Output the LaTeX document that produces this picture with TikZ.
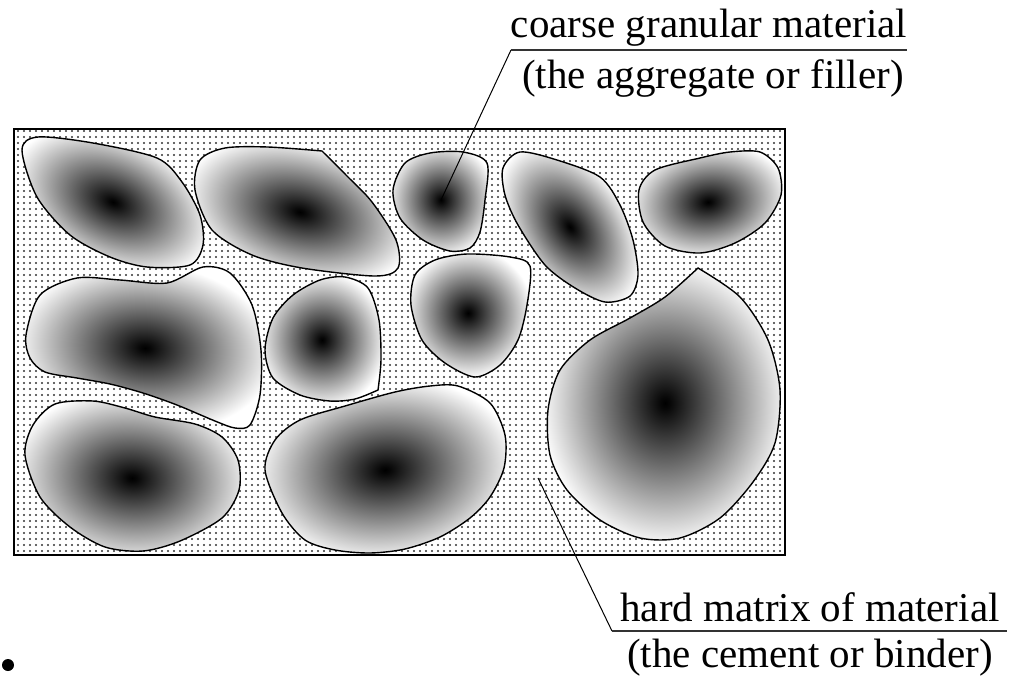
\documentclass[tikz,border=0pt]{standalone}
\usepackage{fontspec}
\setmainfont{Liberation Serif}
\usetikzlibrary{patterns}
\pgfdeclareradialshading{grainshade}{\pgfpoint{0bp}{0bp}}{color(0bp)=(black); color(1bp)=(black!97); color(25bp)=(white); color(50bp)=(white)}
\pgfdeclarepatternformonly{grainmatrixdots}{\pgfqpoint{-1pt}{-1pt}}{\pgfqpoint{1pt}{1pt}}{\pgfqpoint{3pt}{3pt}}{\pgfpathcircle{\pgfqpoint{0pt}{0pt}}{0.6pt}\pgfusepath{fill}}
\newcommand\grain[6]{%
  \path[fill=white] #6;
  \begin{scope}
    \clip #6;
    \shade[shading=grainshade, transform canvas={shift={(#1,#2)},rotate=#5}] (0,0) ellipse [x radius=#3, y radius=#4];
  \end{scope}
  \draw[grainline] #6;
}
\tikzset{
  grainline/.style={draw=black, line width=0.7pt},
  leader/.style={draw=black, line width=0.5pt},
  underline/.style={draw=black!80, line width=0.6pt},
  lbl/.style={font=\fontsize{20.5}{24}\selectfont, inner sep=0pt, anchor=base},
  matrixbox/.style={draw=black, line width=1.2pt, pattern=grainmatrixdots, pattern color=black!80}
}
\begin{document}
\begin{tikzpicture}[x=0.5pt,y=-0.5pt]
\useasboundingbox (0,0) rectangle (1009,677);
% matrix
\path[matrixbox] (14,129) rectangle (785,555);
\node[inner sep=0pt] (matrix) at (400,342) {};
% grains
\grain{113}{202}{105}{66}{-25}{plot[smooth cycle] coordinates {(22,150) (38,137) (93,143) (157,158) (182,182) (200,215) (203,245) (190,265) (147,267) (110,257) (70,235) (37,197)}}
\grain{300}{212}{118}{70}{-15}{plot[smooth] coordinates {(322,151) (347,176) (372,202) (396,240) (398,268) (375,276) (302,268) (252,255) (212,230) (195,190) (200,160) (225,148) (268,147) (322,151)} -- cycle}
\grain{441}{200}{55}{58}{0}{plot[smooth cycle] coordinates {(393,190) (405,163) (430,153) (463,152) (487,163) (485,200) (480,232) (470,248) (450,251) (423,240) (400,218)}}
\grain{570}{227}{92}{58}{-55}{plot[smooth cycle] coordinates {(503,168) (520,152) (557,160) (600,177) (620,205) (633,240) (638,275) (630,296) (605,302) (575,288) (545,265) (518,225) (505,195)}}
\grain{708}{202}{82}{58}{8}{plot[smooth cycle] coordinates {(639,190) (655,170) (700,158) (730,152) (760,152) (778,168) (781,195) (765,223) (735,243) (700,253) (665,246) (643,222)}}
\grain{145}{348}{130}{85}{-5}{plot[smooth cycle] coordinates {(26,335) (40,295) (77,278) (120,280) (167,283) (203,267) (230,273) (252,305) (261,350) (260,395) (250,425) (235,428) (215,421) (177,405) (143,393) (110,384) (77,378) (45,372) (30,358)}}
\grain{322}{340}{65}{68}{0}{plot[smooth] coordinates {(378,390) (355,399) (330,401) (300,395) (273,378) (265,350) (273,318) (293,295) (320,280) (345,277) (368,288) (379,320) (381,360) (378,390)} -- cycle}
\grain{468}{313}{65}{65}{0}{plot[smooth cycle] coordinates {(411,305) (415,275) (435,260) (467,254) (510,257) (530,266) (527,305) (518,340) (500,365) (475,377) (445,363) (422,340)}}
\grain{665}{403}{125}{145}{0}{plot[smooth] coordinates {(698,268) (740,297) (768,340) (780,390) (775,443) (753,482) (720,518) (680,538) (640,538) (600,520) (567,490) (550,455) (548,410) (560,370) (590,340) (630,318) (665,297) (698,268)} -- cycle}
\grain{132}{478}{122}{88}{-5}{plot[smooth cycle] coordinates {(25,455) (33,425) (55,404) (93,401) (125,408) (155,417) (195,424) (222,437) (238,460) (239,490) (222,518) (180,541) (143,551) (105,547) (70,527) (40,497)}}
\grain{385}{470}{132}{92}{5}{plot[smooth cycle] coordinates {(265,470) (275,440) (300,420) (345,406) (395,392) (430,386) (458,386) (490,403) (505,435) (504,468) (490,497) (470,518) (440,537) (405,549) (370,553) (335,550) (305,540) (282,513)}}
% labels
\node[lbl] (coarse) at (709,37) {coarse granular material};
\node[lbl] (aggr) at (713,88) {(the aggregate or filler)};
\node[lbl] (hard) at (810,621) {hard matrix of material};
\node[lbl] (cement) at (810,667) {(the cement or binder)};
\coordinate (p1) at (441,200);
\coordinate (u1l) at (511,50);
\coordinate (u1r) at (907,50);
\coordinate (p2) at (538,478);
\coordinate (u2l) at (612,631);
\coordinate (u2r) at (1007,631);
\draw[leader] (p1) -- (u1l);
\draw[underline] (u1l) -- (u1r);
\draw[leader] (p2) -- (u2l);
\draw[underline] (u2l) -- (u2r);
% stray dot
\fill[black] (8,665) circle (6);
\node[inner sep=0pt] (dot) at (8,665) {};
\end{tikzpicture}
\end{document}
